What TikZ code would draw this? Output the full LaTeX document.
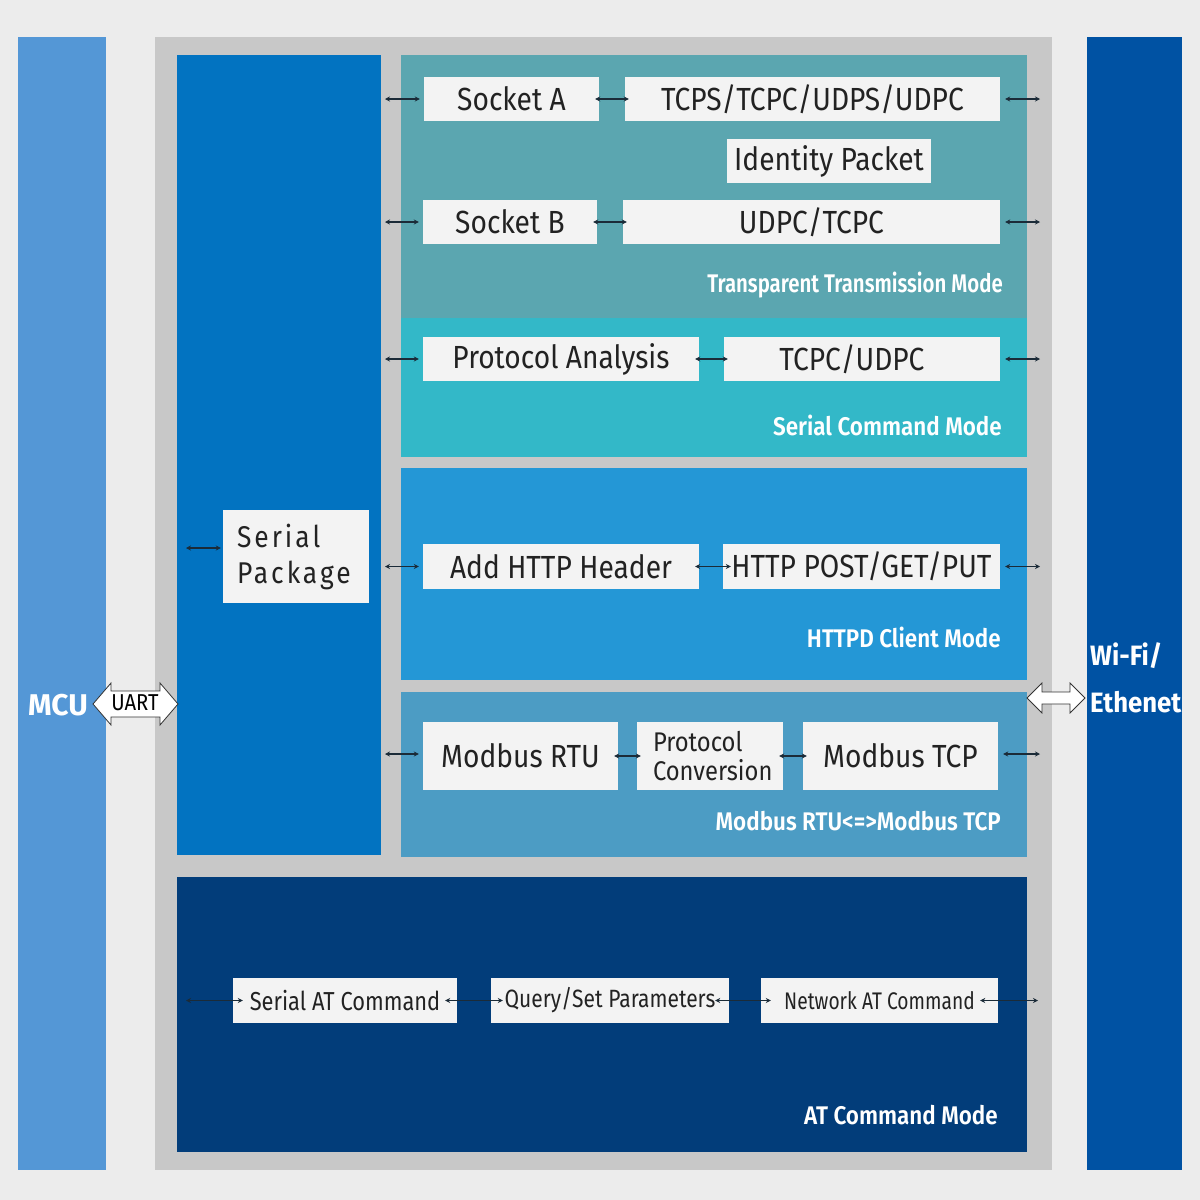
\documentclass[tikz,border=0pt]{standalone}
\usepackage{fontspec}
\setmainfont{Fira Sans}
\newfontfamily\cond[FakeStretch=0.88]{Fira Sans}
\newfontfamily\condat[FakeStretch=0.84]{Fira Sans}
\newfontfamily\condnat[FakeStretch=0.80]{Fira Sans}
\newfontfamily\condb[FakeStretch=0.88]{Fira Sans SemiBold}
\newfontfamily\condbt[FakeStretch=0.80]{Fira Sans SemiBold}
\newfontfamily\sideb[FakeStretch=0.92]{Fira Sans Bold}
\usetikzlibrary{arrows.meta}
\definecolor{bgc}{HTML}{ECECEC}
\definecolor{framec}{HTML}{C8C8C8}
\definecolor{mcuc}{HTML}{5497D6}
\definecolor{wific}{HTML}{0052A3}
\definecolor{serc}{HTML}{0273C1}
\definecolor{transc}{HTML}{5BA6B0}
\definecolor{scmc}{HTML}{33B8C8}
\definecolor{httpc}{HTML}{2497D6}
\definecolor{modc}{HTML}{4C9CC4}
\definecolor{atc}{HTML}{023D7A}
\definecolor{boxc}{HTML}{F3F3F3}
\definecolor{txtc}{HTML}{222222}
\definecolor{arrc}{HTML}{1B2B38}
\begin{document}
\begin{tikzpicture}[x=1pt,y=-1pt,
  region/.style={fill=#1,draw=none,inner sep=0pt,anchor=north west},
  wbox/.style={fill=boxc,draw=none,inner sep=0pt,text=txtc,font=\cond\fontsize{32}{34}\selectfont},
  lab/.style={text=white,font=\condb\fontsize{25.5}{27}\selectfont,anchor=east,inner sep=0pt},
  ba/.style={draw=arrc,line width=1.5pt,{Stealth[length=5pt,width=5pt]}-{Stealth[length=5pt,width=5pt]}},
  big/.style={fill=white,draw=black!80,line width=0.8pt,line join=miter}]
\useasboundingbox (0,0) rectangle (1200,1200);
\fill[bgc] (0,0) rectangle (1200,1200);
% side bars
\node[region=mcuc,minimum width=88pt,minimum height=1133pt] (mcubar) at (18,37) {};
\node[region=wific,minimum width=95pt,minimum height=1133pt] (wifibar) at (1087,37) {};
\node[region=framec,minimum width=897pt,minimum height=1133pt] (frame) at (155,37) {};
% regions
\node[region=serc,minimum width=204pt,minimum height=800pt] (serreg) at (177,55) {};
\node[region=transc,minimum width=626pt,minimum height=263pt] (transreg) at (401,55) {};
\node[region=scmc,minimum width=626pt,minimum height=139pt] (scmreg) at (401,318) {};
\node[region=httpc,minimum width=626pt,minimum height=212pt] (httpreg) at (401,468) {};
\node[region=modc,minimum width=626pt,minimum height=165pt] (modreg) at (401,692) {};
\node[region=atc,minimum width=850pt,minimum height=275pt] (atreg) at (177,877) {};
% labels
\node[lab,font=\condbt\fontsize{25.5}{27}\selectfont] (l1) at (1003,285) {Transparent Transmission Mode};
\node[lab] (l2) at (1002,425) {Serial Command Mode};
\node[lab] (l3) at (1001,637) {HTTPD Client Mode};
\node[lab] (l4) at (1001,821) {Modbus RTU<=>Modbus TCP};
\node[lab] (l5) at (998,1115) {AT Command Mode};
% side texts
\node[text=white,font=\bfseries\fontsize{30}{32}\selectfont,inner sep=0pt] (mcu) at (58,705) {MCU};
\node[text=white,font=\sideb\fontsize{28}{30}\selectfont,inner sep=0pt,anchor=west] (wifi1) at (1090,656) {Wi-Fi/};
\node[text=white,font=\sideb\fontsize{28}{30}\selectfont,inner sep=0pt,anchor=west] (wifi2) at (1090,702) {Ethenet};
% boxes
\node[wbox,minimum width=175pt,minimum height=44pt] (sa) at (511.5,99) {Socket A};
\node[wbox,minimum width=375pt,minimum height=44pt] (tcps) at (812.5,99) {TCPS/TCPC/UDPS/UDPC};
\node[wbox,minimum width=204pt,minimum height=44pt] (idp) at (829,161) {Identity Packet};
\node[wbox,minimum width=174pt,minimum height=44pt] (sb) at (510,222) {Socket B};
\node[wbox,minimum width=377pt,minimum height=44pt] (udpc) at (811.5,222) {UDPC/TCPC};
\node[wbox,minimum width=276pt,minimum height=44pt] (pa) at (561,359) {Protocol Analysis};
\node[wbox,minimum width=276pt,minimum height=44pt] (tcpc) at (862,359) {\hspace*{-20pt}TCPC/UDPC};
\node[wbox,minimum width=146pt,minimum height=93pt,align=left,font=\cond\fontsize{30}{36}\selectfont,text width=118pt] (sp) at (296,556.5) {\addfontfeatures{LetterSpace=10}Serial\\\addfontfeatures{LetterSpace=10}Package};
\node[wbox,minimum width=276pt,minimum height=45pt] (ahh) at (561,566.5) {Add HTTP Header};
\node[wbox,minimum width=277pt,minimum height=45pt] (hpost) at (861.5,566.5) {HTTP POST/GET/PUT};
\node[wbox,minimum width=195pt,minimum height=68pt] (mrtu) at (520.5,756) {Modbus RTU};
\node[wbox,minimum width=146pt,minimum height=68pt,align=left,text width=130pt,font=\cond\fontsize{27}{29}\selectfont] (pc) at (710,756) {\hspace*{8pt}Protocol\\\hspace*{8pt}Conversion};
\node[wbox,minimum width=195pt,minimum height=68pt] (mtcp) at (900.5,756) {Modbus TCP};
\node[wbox,minimum width=224pt,minimum height=45pt,font=\condat\fontsize{26}{28}\selectfont] (sat) at (345,1000.5) {Serial AT Command};
\node[wbox,minimum width=238pt,minimum height=45pt,font=\condat\fontsize{25}{28}\selectfont] (qsp) at (610,1000.5) {Query/Set Parameters};
\node[wbox,minimum width=237pt,minimum height=45pt,font=\condnat\fontsize{24}{26}\selectfont] (nat) at (879.5,1000.5) {Network AT Command};
% free ends
\coordinate (La) at (385,99); \coordinate (Ra) at (1040,99);
\coordinate (Lb) at (385,222); \coordinate (Rb) at (1040,222);
\coordinate (Lc) at (385,359); \coordinate (Rc) at (1040,359);
\coordinate (Ld) at (385,566.5); \coordinate (Rd) at (1040,566.5);
\coordinate (Le) at (385,754); \coordinate (Re) at (1040,754);
\coordinate (Lsp) at (186,548);
\coordinate (Lat) at (186,1000.5); \coordinate (Rat) at (1038,1000.5);
% connectors
\draw[ba,shorten >=4pt] (La) -- (sa.west);
\draw[ba,shorten <=-4pt,shorten >=-4pt] (sa.east) -- (tcps.west);
\draw[ba,shorten <=5pt] (tcps.east) -- (Ra);
\draw[ba,shorten >=4pt] (Lb) -- (sb.west);
\draw[ba,shorten <=-4pt,shorten >=-4pt] (sb.east) -- (udpc.west);
\draw[ba,shorten <=5pt] (udpc.east) -- (Rb);
\draw[ba,shorten >=4pt] (Lc) -- (pa.west);
\draw[ba,shorten <=-4pt,shorten >=-4pt] (pa.east) -- (tcpc.west);
\draw[ba,shorten <=5pt] (tcpc.east) -- (Rc);
\draw[ba,shorten >=2pt] (Lsp) -- (sp.west |- Lsp);
\draw[ba,shorten >=4pt] (Ld) -- (ahh.west);
\draw[ba,shorten <=-4pt,shorten >=-8pt] (ahh.east) -- (hpost.west);
\draw[ba,shorten <=5pt] (hpost.east) -- (Rd);
\draw[ba,shorten >=4pt] (Le) -- (mrtu.west |- Le);
\draw[ba,shorten <=-4pt,shorten >=-4pt] (mrtu.east) -- (pc.west);
\draw[ba,shorten <=-4pt,shorten >=-4pt] (pc.east) -- (mtcp.west);
\draw[ba,shorten <=5pt] (mtcp.east |- Re) -- (Re);
\draw[ba,shorten >=-10pt] (Lat) -- (sat.west);
\draw[ba,shorten <=-12pt,shorten >=-12pt] (sat.east) -- (qsp.west);
\draw[ba,shorten <=-14pt,shorten >=-10pt] (qsp.east) -- (nat.west);
\draw[ba,shorten <=-18pt] (nat.east) -- (Rat);
% UART big arrow
\draw[big] (93,704) -- (111,683) -- (111,691) -- (160,691) -- (160,683) -- (178,704)
  -- (160,725) -- (160,717) -- (111,717) -- (111,725) -- cycle;
\node[font=\cond\fontsize{23}{24}\selectfont,inner sep=0pt,text=black] (uart) at (135,703) {UART};
% Wi-Fi big arrow
\draw[big] (1027,698) -- (1042,683) -- (1042,692) -- (1070,692) -- (1070,683) -- (1085,698)
  -- (1070,713) -- (1070,704) -- (1042,704) -- (1042,713) -- cycle;
\end{tikzpicture}
\end{document}
